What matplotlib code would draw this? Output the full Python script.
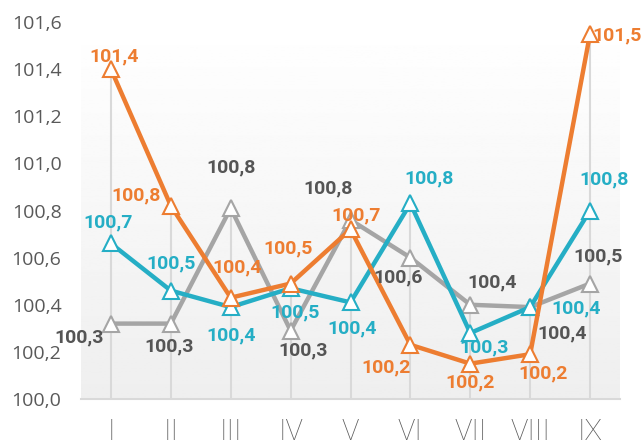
import numpy as np
import matplotlib.pyplot as plt

months = ["I", "II", "III", "IV", "V", "VI", "VII", "VIII", "IX"]
orange_vals = [101.40, 100.82, 100.43, 100.49, 100.72, 100.23, 100.15, 100.19, 101.55]
teal_vals = [100.66, 100.46, 100.39, 100.47, 100.41, 100.83, 100.28, 100.39, 100.80]
gray_vals = [100.32, 100.32, 100.81, 100.29, 100.76, 100.60, 100.40, 100.39, 100.49]

# label offsets in pixels (dx, dy), hand placed like the original
orange_off = [(3, 13), (-35, 10), (6, 30), (-3, 35), (6, 14), (-24, -23), (0, -19), (13, -19), (27, -2)]
teal_off = [(-3, 21), (0, 27), (0, -28), (4, -24), (2, -26), (19, 25), (14, -14), (46, -1), (14, 31)]
gray_off = [(-32, -14), (-2, -23), (0, 41), (13, -20), (-22, 31), (-12, -20), (22, 22), (32, -26), (8, 27)]

ORANGE = "#ED7D31"
TEAL = "#25AEC5"
GRAY = "#A5A5A5"
DARK = "#555555"

fig = plt.figure(figsize=(6.42, 4.47), dpi=100)
ax = fig.add_axes([81 / 642, 48 / 447, 539 / 642, 377 / 447])

x = np.arange(len(months))
ax.set_xlim(-0.5, len(months) - 0.5)
ax.set_ylim(100.0, 101.6)

# gradient background
grad = np.linspace(0.935, 1.0, 256).reshape(-1, 1)
ax.imshow(grad, extent=[0, 1, 0, 1], transform=ax.transAxes, aspect="auto",
          cmap="gray", vmin=0, vmax=1, origin="lower", zorder=0)

# drop lines
tops = np.max([orange_vals, teal_vals, gray_vals], axis=0)
ax.vlines(x, 100.0, tops, color="#D9D9D9", lw=1.5, zorder=1)

series = [(gray_vals, GRAY, DARK, gray_off),
          (teal_vals, TEAL, TEAL, teal_off),
          (orange_vals, ORANGE, ORANGE, orange_off)]
for i, (vals, col, lcol, offs) in enumerate(series):
    ax.plot(x, vals, color=col, lw=3.2, marker="^", markersize=11,
            markerfacecolor="white", markeredgecolor=col, markeredgewidth=1.5,
            zorder=3 + i)
    for xi, v, (dx, dy) in zip(x, vals, offs):
        ax.annotate("{:.1f}".format(v).replace(".", ","), (xi, v),
                    xytext=(dx, dy), textcoords="offset pixels",
                    ha="center", va="center", color=lcol, fontsize=14,
                    fontweight="bold", family=["Roboto", "DejaVu Sans"],
                    zorder=10)

for s in ["top", "right", "left"]:
    ax.spines[s].set_visible(False)
ax.spines["bottom"].set_color("#D9D9D9")
ax.spines["bottom"].set_linewidth(1.5)

yt = np.arange(100.0, 101.61, 0.2)
ax.set_yticks(yt)
ax.set_yticklabels(["{:.1f}".format(t).replace(".", ",") for t in yt])
ax.set_xticks(x)
ax.set_xticklabels(months)
ax.tick_params(axis="y", length=0, pad=14, labelsize=14, labelcolor="#595959")
ax.tick_params(axis="x", length=0, pad=14, labelsize=21, labelcolor="#595959")
for t in ax.get_yticklabels():
    t.set_family("Open Sans")
for t in ax.get_xticklabels():
    t.set_family("Roboto")
    t.set_fontweight("light")

fig.savefig("out.png", dpi=100)
